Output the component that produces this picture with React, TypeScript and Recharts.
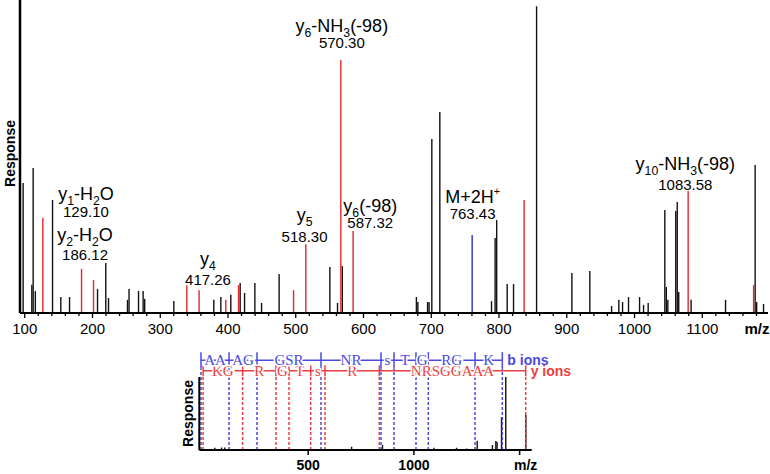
import React from "react";
import { Bar, ComposedChart, ReferenceDot, ReferenceLine, XAxis, YAxis } from "recharts";

// main MS/MS spectrum: [m/z, relative response]
const blackPeaks: [number, number][] = [
  [97.9, 41.5], [110.7, 9], [112.7, 46.3], [115.9, 7], [141.3, 36.1], [153.5, 5.1], [166.4, 5.1],
  [207.7, 7.7], [219.9, 16], [223.9, 4.8], [251.9, 4.2], [254.2, 7.7], [268.2, 7], [275, 7], [277.3, 4.5],
  [320.3, 3.8], [379.3, 4.2], [389.7, 5.1], [404.4, 5.8], [418.2, 9.6], [424.7, 6.4], [439.9, 9.6],
  [449.8, 3.2], [475.7, 12.5], [550.6, 14.7], [561.9, 3.2], [569, 15], [678.3, 5.1], [680.5, 3.5],
  [694.8, 3.5], [697, 3.5], [701.1, 55.6], [712.9, 64.2], [789.2, 3.8], [794.5, 24], [796.8, 29.7],
  [812.3, 9.3], [821.7, 9.3], [855.7, 98], [907.8, 12.8], [934.3, 13.4], [966.4, 2.2], [977.1, 4.2],
  [982.6, 3.5], [991.4, 5.1], [1007.7, 5.1], [1013.6, 2.6], [1020.4, 3.2], [1045, 32.9], [1047.2, 8.3],
  [1049.4, 4.2], [1061.1, 32.6], [1063.3, 35.5], [1065.5, 6.7], [1083.8, 4.2], [1134.6, 4.2],
  [1178.3, 47.3], [1180.5, 3.5], [1190.7, 2.9],
];
const redPeaks: [number, number][] = [
  [127, 30.4], [184.1, 14.1], [201.8, 10.5], [339.5, 8.9], [357.6, 7.3], [397, 4.2], [415.8, 8.9],
  [497, 7.3], [515.1, 22], [566.8, 80.8], [584.9, 26.2], [837.3, 36.1], [1079.4, 39], [1176, 8.9],
];
const bluePeaks: [number, number][] = [[760.6, 24.9]];

const majorTicks = [100, 200, 300, 400, 500, 600, 700, 800, 900, 1000, 1100];

// labels: anchor m/z and response of the value line, gap to the ion name line
const annotations = [
  { mz: 190.4, at: 30.7, gap: 17, name: "y_{1}-H_{2}O", value: "129.10" },
  { mz: 189, at: 16.9, gap: 19, name: "y_{2}-H_{2}O", value: "186.12" },
  { mz: 370.5, at: 8.9, gap: 20, name: "y_{4}", value: "417.26" },
  { mz: 513, at: 22.7, gap: 21, name: "y_{5}", value: "518.30" },
  { mz: 568, at: 84.7, gap: 16, name: "y_{6}-NH_{3}(-98)", value: "570.30" },
  { mz: 610, at: 27.2, gap: 16, name: "y_{6}(-98)", value: "587.32" },
  { mz: 761, at: 30.0, gap: 16, name: "M+2H^{+}", value: "763.43" },
  { mz: 1075, at: 39.3, gap: 20, name: "y_{10}-NH_{3}(-98)", value: "1083.58" },
];

// inset: full spectrum with sequence ladders
const insetPeaks: [number, number][] = [
  [59, 3], [91, 3.5], [106, 3.5], [706, 4.5], [852, 7], [1095, 3], [1202, 3], [1250, 2],
  [1300, 12.7], [1372, 7], [1388, 12.3], [1394, 11], [1415, 45], [1435, 100], [1530, 48],
];
const bIonCuts = [-7, 125.5, 258, 560.6, 844.3, 905.8, 1009.8, 1068, 1289, 1418];
const bIonSeq = ["AA", "AG", "GSR", "NR", "s", "T", "G", "RG", "K"];
const yIonCuts = [3, 190, 347.7, 409.2, 511.8, 579.5, 836.3, 1528.6];
const yIonSeq = ["KG", "R", "G", "T", "s", "R", "NRSGGAAA"];

const BLACK = "#111111";
const RED = "#e0262b";
const BLUE = "#2b2fc8";
const LADDER_BLUE = "#4a4ae2";
const LADDER_RED = "#ec3f42";
const SANS = "'Liberation Sans', Arial, sans-serif";
const SERIF = "'Liberation Serif', 'Times New Roman', serif";

const B_ROW = 123;
const Y_ROW = 108.5;

const mainData = [
  ...blackPeaks.map(([mz, v]) => ({ mz, intensity: v, color: BLACK })),
  ...redPeaks.map(([mz, v]) => ({ mz, intensity: v, color: RED })),
  ...bluePeaks.map(([mz, v]) => ({ mz, intensity: v, color: BLUE })),
];
const insetData = insetPeaks.map(([mz, v]) => ({ mz, intensity: v, color: BLACK }));

const minorTicks = majorTicks.flatMap((t) => [t, t + 20, t + 40, t + 60, t + 80]);

function PeakLine(props: any) {
  const { x, y, width, height, payload } = props;
  if (x == null || y == null) return null;
  const cx = x + width / 2;
  return <line x1={cx} x2={cx} y1={y} y2={y + height} stroke={payload.color} strokeWidth={1.4} />;
}

function IonName({ x, y, name, size }: { x: number; y: number; name: string; size: number }) {
  const parts = name.split(/(_\{[^}]*\}|\^\{[^}]*\})/).filter(Boolean);
  let shift = 0;
  return (
    <text x={x} y={y} textAnchor="middle" fontSize={size} fontFamily={SANS} fill="#000">
      {parts.map((p, i) => {
        let target = 0;
        let fs = size;
        let txt = p;
        if (p.startsWith("_{")) {
          target = 5;
          fs = size * 0.68;
          txt = p.slice(2, -1);
        } else if (p.startsWith("^{")) {
          target = -8;
          fs = size * 0.6;
          txt = p.slice(2, -1);
        }
        const dy = target - shift;
        shift = target;
        return (
          <tspan key={i} dy={dy} fontSize={fs}>
            {txt}
          </tspan>
        );
      })}
    </text>
  );
}

function MainTick(props: any) {
  const { x, y, payload } = props;
  const major = payload.value % 100 === 0;
  return (
    <g>
      <line x1={x} x2={x} y1={y} y2={y + (major ? 5 : 3)} stroke="#000" strokeWidth={1.3} />
      {major && (
        <text x={x} y={y + 20.5} textAnchor="middle" fontSize={15} fontFamily={SANS} fill="#000">
          {payload.value}
        </text>
      )}
    </g>
  );
}

function InsetTick(props: any) {
  const { x, y, payload } = props;
  const last = payload.value === 1500;
  return (
    <g>
      <line x1={x} x2={x} y1={y} y2={y + 5} stroke="#000" strokeWidth={1.5} />
      <text
        x={last ? x + 6 : x}
        y={y + 20}
        textAnchor="middle"
        fontSize={14}
        fontWeight="bold"
        fontFamily={SANS}
        fill="#000"
      >
        {last ? "m/z" : payload.value}
      </text>
    </g>
  );
}

function responseLabel(dx: number, dy: number) {
  return (props: any) => {
    const vb = props.viewBox;
    const cx = vb.x + dx;
    const cy = vb.y + vb.height / 2 + dy;
    return (
      <text
        x={cx}
        y={cy}
        transform={`rotate(-90 ${cx} ${cy})`}
        textAnchor="middle"
        dominantBaseline="central"
        fontSize={14}
        fontWeight="bold"
        fontFamily={SANS}
        fill="#000"
      >
        Response
      </text>
    );
  };
}

function LadderText(text: string, color: string, anchor: "middle" | "start", bold = false) {
  return (p: any) => (
    <text
      x={anchor === "start" ? p.cx + 5 : p.cx}
      y={p.cy}
      textAnchor={anchor}
      dominantBaseline="central"
      fontSize={bold ? 14 : 15}
      fontWeight={bold ? "bold" : "normal"}
      fontFamily={bold ? SANS : SERIF}
      fill={color}
      stroke={bold ? "none" : "#fff"}
      strokeWidth={3}
      paintOrder="stroke"
    >
      {text}
    </text>
  );
}

function Ladder(cuts: number[], seq: string[], row: number, dashTop: number, tick: [number, number], color: string, textColor: string, title: string) {
  const els: React.ReactNode[] = [];
  cuts.forEach((c, i) => {
    els.push(
      <ReferenceLine
        key={`d${title}${i}`}
        segment={[{ x: c, y: 0 }, { x: c, y: dashTop }]}
        stroke={color}
        strokeWidth={1.5}
        strokeDasharray="3 2"
        ifOverflow="visible"
      />
    );
    els.push(
      <ReferenceLine
        key={`t${title}${i}`}
        segment={[{ x: c, y: tick[0] }, { x: c, y: tick[1] }]}
        stroke={color}
        strokeWidth={1.5}
        ifOverflow="visible"
      />
    );
  });
  els.push(
    <ReferenceLine
      key={`row${title}`}
      segment={[{ x: cuts[0], y: row }, { x: cuts[cuts.length - 1], y: row }]}
      stroke={color}
      strokeWidth={1.5}
      ifOverflow="visible"
    />
  );
  seq.forEach((s, i) => {
    els.push(
      <ReferenceDot
        key={`l${title}${i}`}
        x={(cuts[i] + cuts[i + 1]) / 2}
        y={row}
        r={1}
        ifOverflow="visible"
        shape={LadderText(s, textColor, "middle")}
      />
    );
  });
  els.push(
    <ReferenceDot
      key={`n${title}`}
      x={cuts[cuts.length - 1]}
      y={row}
      r={1}
      ifOverflow="visible"
      shape={LadderText(title, color, "start", true)}
    />
  );
  return els;
}

export default function App() {
  return (
    <div style={{ position: "absolute", left: 0, top: 0, width: 770, height: 474, background: "#fff" }}>
      <div style={{ position: "absolute", left: 0, top: 0 }}>
        <ComposedChart width={770} height={345} data={mainData} margin={{ top: 0, right: 2, bottom: 0, left: 0 }}>
          <XAxis
            dataKey="mz"
            type="number"
            domain={[93, 1197]}
            allowDataOverflow
            ticks={minorTicks}
            interval={0}
            height={32}
            tickSize={0}
            tickMargin={0}
            tick={<MainTick />}
            axisLine={{ stroke: "#000", strokeWidth: 2 }}
            label={(p: any) => (
              <text
                x={p.viewBox.x + p.viewBox.width - 11}
                y={p.viewBox.y + 20.5}
                textAnchor="middle"
                fontSize={15}
                fontWeight="bold"
                fontFamily={SANS}
                fill="#000"
              >
                m/z
              </text>
            )}
          />
          <YAxis
            type="number"
            domain={[0, 100]}
            allowDataOverflow
            ticks={[50]}
            interval={0}
            width={20}
            tick={false}
            tickSize={-4}
            tickLine={{ stroke: "#000", strokeWidth: 1.3 }}
            axisLine={{ stroke: "#000", strokeWidth: 2.5 }}
            label={responseLabel(10, -3)}
          />
          <Bar dataKey="intensity" barSize={1} shape={<PeakLine />} isAnimationActive={false} />
          {annotations.map((a, i) => (
            <ReferenceDot
              key={i}
              x={a.mz}
              y={a.at}
              r={1}
              ifOverflow="visible"
              shape={(p: any) => (
                <g>
                  <IonName x={p.cx} y={p.cy - a.gap} name={a.name} size={18} />
                  <text x={p.cx} y={p.cy} textAnchor="middle" fontSize={15} fontFamily={SANS} fill="#000">
                    {a.value}
                  </text>
                </g>
              )}
            />
          ))}
        </ComposedChart>
      </div>
      <div style={{ position: "absolute", left: 170, top: 340 }}>
        <ComposedChart width={410} height={134} data={insetData} margin={{ top: 37, right: 48.3, bottom: 0, left: 0 }}>
          <XAxis
            dataKey="mz"
            type="number"
            domain={[-15, 1557]}
            allowDataOverflow
            ticks={[500, 1000, 1500]}
            interval={0}
            height={24}
            tickSize={0}
            tickMargin={0}
            tick={<InsetTick />}
            axisLine={{ stroke: "#000", strokeWidth: 2 }}
          />
          <YAxis
            type="number"
            domain={[0, 100]}
            allowDataOverflow
            width={29.3}
            tick={false}
            tickLine={false}
            axisLine={{ stroke: "#000", strokeWidth: 2 }}
            label={responseLabel(18, 0)}
          />
          {Ladder(yIonCuts, yIonSeq, Y_ROW, 101, [101, 116], LADDER_RED, LADDER_RED, "y ions")}
          {Ladder(bIonCuts, bIonSeq, B_ROW, 112, [112, 134], LADDER_BLUE, LADDER_BLUE, "b ions")}
          <Bar dataKey="intensity" barSize={1} shape={<PeakLine />} isAnimationActive={false} />
        </ComposedChart>
      </div>
    </div>
  );
}
